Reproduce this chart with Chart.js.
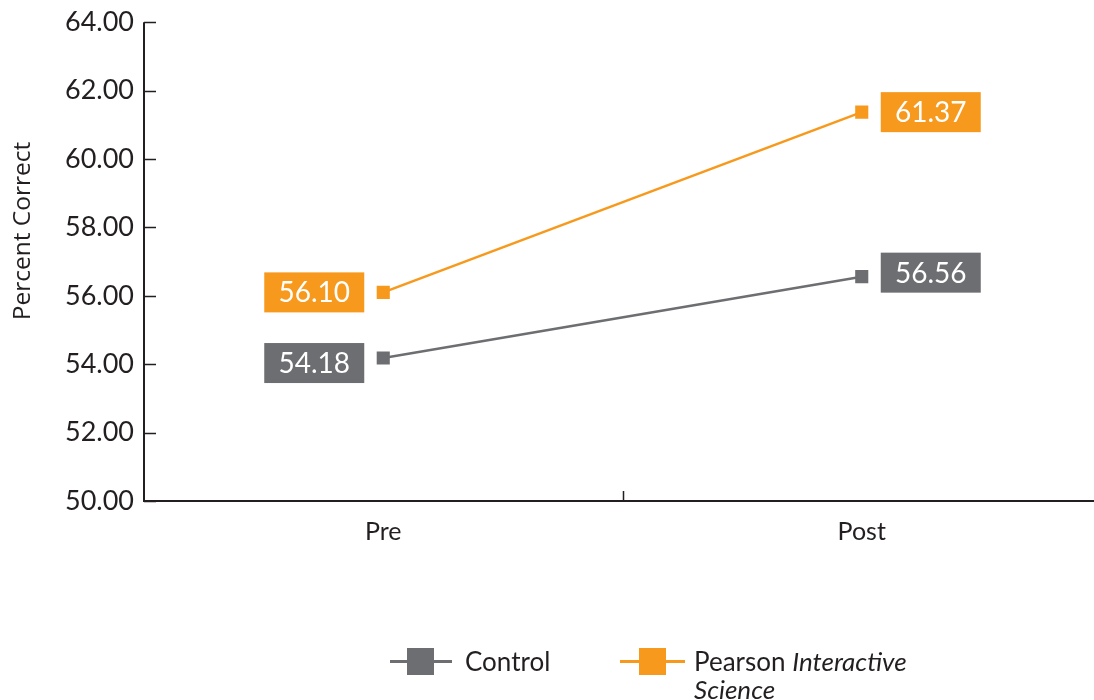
<!DOCTYPE html>
<html>
<head>
<meta charset="utf-8">
<script src="https://cdn.jsdelivr.net/npm/chart.js@4/dist/chart.umd.min.js"></script>
<style>
  html, body { margin: 0; padding: 0; background: #fff; overflow: hidden; }
  #wrap { position: relative; width: 1111px; height: 700px; overflow: hidden; }
  #c { position: absolute; left: 0; top: -4px; }
  #legend { position: absolute; left: 0; top: 0; width: 1111px; height: 700px; pointer-events: none;
            font-family: Lato, "Open Sans", sans-serif; color: #231f20; font-size: 26px; }
  .lg-line { position: absolute; height: 3px; }
  .lg-box { position: absolute; width: 27px; height: 27px; }
  .lg-text { position: absolute; line-height: 28px; }
  #ytitle { position: absolute; left: 21px; top: 231px; transform: translate(-50%, -50%) rotate(-90deg);
            white-space: nowrap; font-family: "Open Sans", sans-serif; font-size: 24.5px; color: #231f20; line-height: 1; }
</style>
</head>
<body>
<div id="wrap">
  <canvas id="c" width="1111" height="704" style="width:1111px;height:704px"></canvas>
  <div id="legend"></div>
</div>
<script>
const categories = ["Pre", "Post"];
const controlValues = [54.18, 56.56];
const pearsonValues = [56.10, 61.37];
const yTicks = [50, 52, 54, 56, 58, 60, 62, 64];
const yTitle = "Percent Correct";
const seriesNames = ["Control", "Pearson <i>Interactive<br>Science</i>"];

const GRAY = "#6d6e71";
const ORANGE = "#f7991c";
const TEXT = "#231f20";
const FONT = "Lato, 'Open Sans', sans-serif";

// label placement style: side per category, vertical nudge per series/category
const labelSide = [-1, 1];
const labelNudge = { 0: [5, -4], 1: [0, 0] };

const insideTicks = {
  id: "insideTicks",
  afterDraw(chart) {
    const ctx = chart.ctx;
    const y = chart.scales.y, x = chart.scales.x;
    const a = chart.chartArea;
    ctx.save();
    ctx.strokeStyle = TEXT;
    ctx.lineWidth = 1.5;
    ctx.beginPath();
    yTicks.forEach(v => {
      const py = Math.round(y.getPixelForValue(v)) + 0.5;
      ctx.moveTo(a.left, py); ctx.lineTo(a.left + 12, py);
    });
    const mid = (x.getPixelForValue(0) + x.getPixelForValue(1)) / 2;
    ctx.moveTo(Math.round(mid) + 0.5, a.bottom); ctx.lineTo(Math.round(mid) + 0.5, a.bottom - 10);
    ctx.stroke();
    ctx.lineWidth = 2;
    ctx.beginPath();
    ctx.moveTo(a.left, a.top); ctx.lineTo(a.left, a.bottom); ctx.lineTo(chart.width, a.bottom);
    ctx.stroke();
    ctx.restore();
  }
};

const boxLabels = {
  id: "boxLabels",
  afterDatasetsDraw(chart) {
    const ctx = chart.ctx;
    ctx.save();
    ctx.font = "28px " + FONT;
    ctx.textBaseline = "middle";
    ctx.textAlign = "center";
    chart.data.datasets.forEach((ds, di) => {
      const meta = chart.getDatasetMeta(di);
      meta.data.forEach((pt, i) => {
        const w = 100, h = 40;
        const side = labelSide[i];
        const cx = side < 0 ? pt.x - 19 - w / 2 : pt.x + 19 + w / 2;
        const cy = pt.y + labelNudge[di][i];
        ctx.fillStyle = ds.borderColor;
        ctx.fillRect(cx - w / 2, cy - h / 2, w, h);
        ctx.fillStyle = "#fff";
        ctx.fillText(ds.data[i].toFixed(2), cx, cy + 1);
      });
    });
    ctx.restore();
  }
};

new Chart(document.getElementById("c"), {
  type: "line",
  data: {
    labels: categories,
    datasets: [
      { label: "Control", data: controlValues, borderColor: GRAY, backgroundColor: GRAY,
        borderWidth: 2.5, pointStyle: "rect", pointRadius: 7.5, pointHoverRadius: 7.5 },
      { label: "Pearson Interactive Science", data: pearsonValues, borderColor: ORANGE, backgroundColor: ORANGE,
        borderWidth: 2.5, pointStyle: "rect", pointRadius: 7.5, pointHoverRadius: 7.5 }
    ]
  },
  options: {
    responsive: false,
    animation: false,
    layout: { padding: { top: 19, left: 0, right: 0, bottom: 0 } },
    plugins: { legend: { display: false }, tooltip: { enabled: false } },
    scales: {
      x: {
        offset: true,
        grid: { display: false, drawTicks: false },
        border: { display: false },
        ticks: { color: TEXT, font: { family: FONT, size: 25 }, padding: 16 },
        afterFit: s => { s.height = 199; }
      },
      y: {
        min: 50, max: 64,
        afterBuildTicks: s => { s.ticks = yTicks.map(v => ({ value: v })); },
        grid: { display: false, drawTicks: false },
        border: { display: false },
        ticks: { color: TEXT, font: { family: FONT, size: 27 }, padding: 10,
                 callback: v => Number(v).toFixed(2) },
        title: { display: false },
        afterFit: s => { s.width = 144; }
      }
    }
  },
  plugins: [insideTicks, boxLabels]
});

const legend = document.getElementById("legend");
const yt = document.createElement("div");
yt.id = "ytitle";
yt.textContent = yTitle;
legend.append(yt);
const legendItems = [
  { color: GRAY, lineX: 390, lineW: 62, boxX: 407, textX: 465 },
  { color: ORANGE, lineX: 620, lineW: 65, boxX: 639, textX: 694 }
];
legendItems.forEach((it, i) => {
  const line = document.createElement("div");
  line.className = "lg-line";
  line.style.cssText = `left:${it.lineX}px;top:660px;width:${it.lineW}px;background:${it.color}`;
  const box = document.createElement("div");
  box.className = "lg-box";
  box.style.cssText = `left:${it.boxX}px;top:648px;background:${it.color}`;
  const t = document.createElement("div");
  t.className = "lg-text";
  t.style.cssText = `left:${it.textX}px;top:647px`;
  t.innerHTML = seriesNames[i];
  legend.append(line, box, t);
});
</script>
</body>
</html>
